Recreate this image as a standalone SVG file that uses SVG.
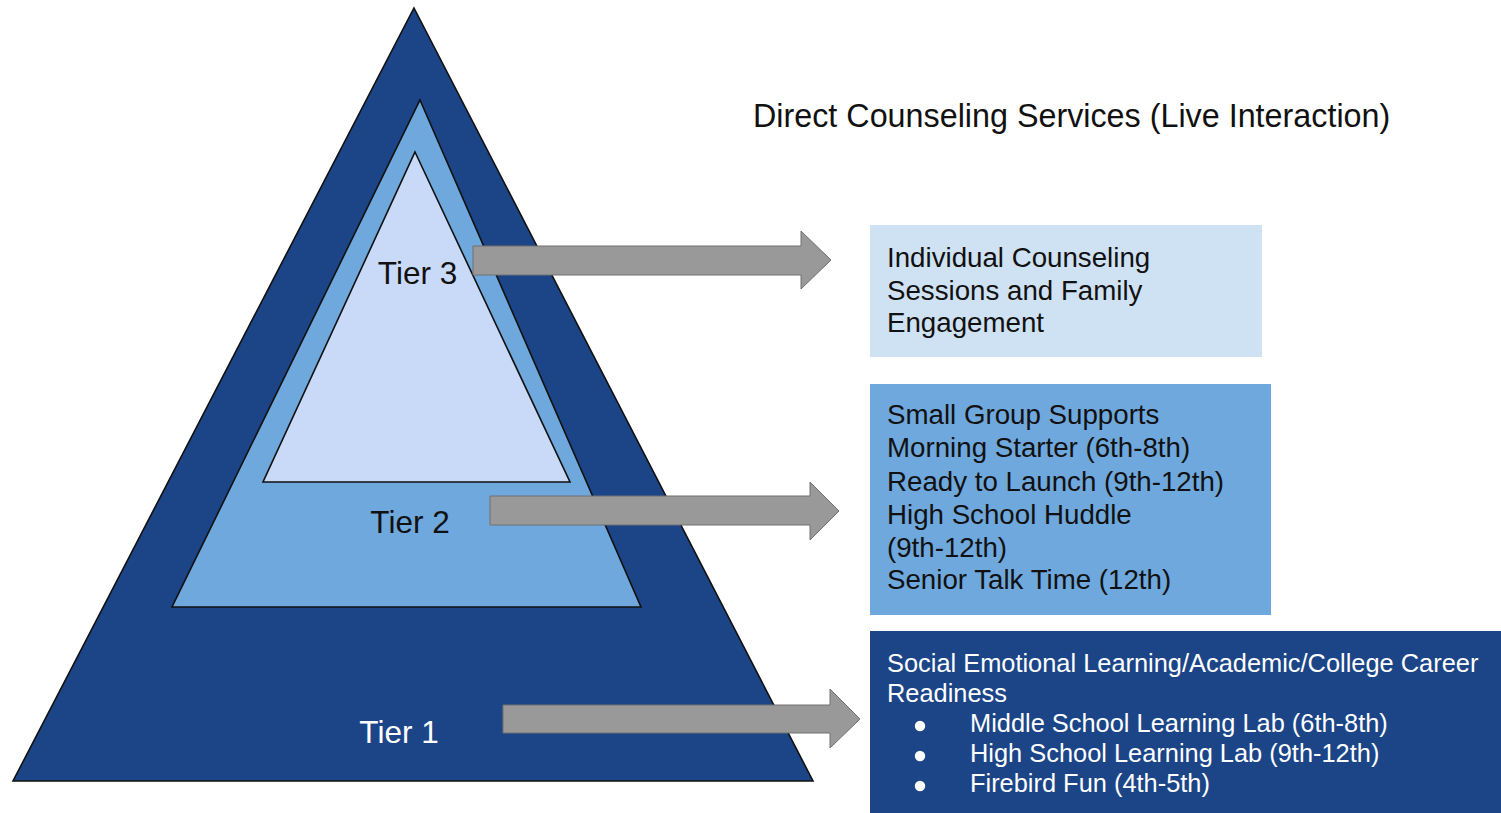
<svg xmlns="http://www.w3.org/2000/svg" width="1501" height="813" viewBox="0 0 1501 813">
  <style>
    .tri { stroke: #111; stroke-width: 1.6; stroke-linejoin: miter; }
    .t1 { fill: #1c4587; }
    .t2 { fill: #6fa8dc; }
    .t3 { fill: #c9daf8; }
    .tier { font-family: "Liberation Sans", Arial, sans-serif; font-size: 31.5px; text-anchor: middle; }
    .dark { fill: #111; }
    .light { fill: #fff; }
    .title { font-family: "Liberation Sans", Arial, sans-serif; font-size: 32.3px; fill: #111; }
    .bt { font-family: "Liberation Sans", Arial, sans-serif; font-size: 27.7px; fill: #111; }
    .bw { font-family: "Liberation Sans", Arial, sans-serif; font-size: 25.4px; fill: #fff; }
    .arrow { fill: #999999; stroke: #707070; stroke-width: 1; }
  </style>
  <rect width="1501" height="813" fill="#ffffff"/>

  <g id="tier1">
    <polygon class="tri t1" points="414,8 813,781 13,781"/>
    <text class="tier light" x="399" y="743">Tier 1</text>
  </g>
  <g id="tier2">
    <polygon class="tri t2" points="420,100 641,607 172,607"/>
    <text class="tier dark" x="410" y="533">Tier 2</text>
  </g>
  <g id="tier3">
    <polygon class="tri t3" points="415,152 570,482 263,482"/>
    <text class="tier dark" x="417.5" y="284">Tier 3</text>
  </g>

  <g id="title">
    <text class="title" x="753" y="127">Direct Counseling Services (Live Interaction)</text>
  </g>

  <g id="box-tier3">
    <rect x="870" y="225" width="392" height="132" fill="#cfe2f3"/>
    <text class="bt" x="887" y="267">Individual Counseling</text>
    <text class="bt" x="887" y="300">Sessions and Family</text>
    <text class="bt" x="887" y="332">Engagement</text>
  </g>

  <g id="box-tier2">
    <rect x="870" y="384" width="401" height="231" fill="#6fa8dc"/>
    <text class="bt" x="887" y="424">Small Group Supports</text>
    <text class="bt" x="887" y="457">Morning Starter (6th-8th)</text>
    <text class="bt" x="887" y="491">Ready to Launch (9th-12th)</text>
    <text class="bt" x="887" y="524">High School Huddle</text>
    <text class="bt" x="887" y="557">(9th-12th)</text>
    <text class="bt" x="887" y="589">Senior Talk Time (12th)</text>
  </g>

  <g id="box-tier1">
    <rect x="870" y="631" width="631" height="182" fill="#1c4587"/>
    <text class="bw" x="887" y="672">Social Emotional Learning/Academic/College Career</text>
    <text class="bw" x="887" y="702">Readiness</text>
    <circle cx="920" cy="726" r="5.2" fill="#fff"/>
    <text class="bw" x="970" y="732">Middle School Learning Lab (6th-8th)</text>
    <circle cx="920" cy="756" r="5.2" fill="#fff"/>
    <text class="bw" x="970" y="762">High School Learning Lab (9th-12th)</text>
    <circle cx="920" cy="786" r="5.2" fill="#fff"/>
    <text class="bw" x="970" y="792">Firebird Fun (4th-5th)</text>
  </g>

  <g id="connectors">
    <polygon class="arrow" points="473,246 801,246 801,231 831,260 801,289 801,275 473,275"/>
    <polygon class="arrow" points="490,496 810,496 810,482 839,511 810,540 810,525 490,525"/>
    <polygon class="arrow" points="503,705 830,705 830,689 860,719 830,748 830,733 503,733"/>
  </g>
</svg>
